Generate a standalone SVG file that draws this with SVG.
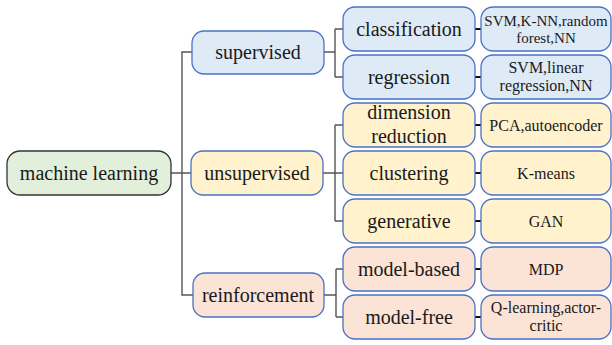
<svg xmlns="http://www.w3.org/2000/svg" width="612" height="345" viewBox="0 0 612 345">
<style>
.b{fill:#deebf7;stroke:#4a72c4;stroke-width:1.3}
.y{fill:#fff2cc;stroke:#4a72c4;stroke-width:1.3}
.o{fill:#fbe3d6;stroke:#4a72c4;stroke-width:1.3}
.g{fill:#e2efda;stroke:#333;stroke-width:1.3}
.c{fill:none;stroke:#555;stroke-width:1.4}
.k{fill:none;stroke:#111;stroke-width:2}
</style>
<g id="connectors">
<path class="c" d="M171 173H191M193 52H182V295H193M324 52H335M335 29V77M335 29H343M335 77H343"/>
<path class="c" d="M323 173H343M335 125V221M335 125H343M335 221H343"/>
<path class="c" d="M324 295H336M336 269V317M336 269H343M336 317H343"/>
<path class="k" d="M475 29H481M475 77H481M475 125H481M475 173H481M475 221H481M475 269H481M475 317H481"/>
</g>
<g font-family="Liberation Serif, serif" font-size="20" fill="#1a1a1a" text-anchor="middle">
<g id="machine-learning"><rect class="g" x="7" y="151" width="164" height="44" rx="13"/><text x="89" y="180">machine learning</text></g>
<g id="supervised"><rect class="b" x="192" y="31" width="132" height="43" rx="12"/><text x="258" y="59">supervised</text></g>
<g id="unsupervised"><rect class="y" x="191" y="151" width="132" height="44" rx="12"/><text x="257" y="180">unsupervised</text></g>
<g id="reinforcement"><rect class="o" x="193" y="273" width="131" height="44" rx="12"/><text x="258" y="302">reinforcement</text></g>
<g id="classification"><rect class="b" x="343" y="7" width="132" height="44" rx="12"/><text x="409" y="36">classification</text></g>
<g id="regression"><rect class="b" x="343" y="55" width="132" height="44" rx="12"/><text x="409" y="84">regression</text></g>
<g id="dimension-reduction"><rect class="y" x="343" y="103" width="132" height="44" rx="12"/><text x="409" y="119">dimension</text><text x="409" y="143">reduction</text></g>
<g id="clustering"><rect class="y" x="343" y="151" width="132" height="44" rx="12"/><text x="409" y="180">clustering</text></g>
<g id="generative"><rect class="y" x="343" y="199" width="132" height="44" rx="12"/><text x="409" y="228">generative</text></g>
<g id="model-based"><rect class="o" x="343" y="247" width="132" height="44" rx="12"/><text x="409" y="276">model-based</text></g>
<g id="model-free"><rect class="o" x="343" y="295" width="132" height="44" rx="12"/><text x="409" y="324">model-free</text></g>
</g>
<g font-family="Liberation Serif, serif" font-size="16" fill="#1a1a1a" text-anchor="middle">
<g id="svm-knn"><rect class="b" x="481" y="7" width="130" height="44" rx="12"/><text x="546" y="26" font-size="15">SVM,K-NN,random</text><text x="546" y="43" font-size="15">forest,NN</text></g>
<g id="svm-linear"><rect class="b" x="481" y="55" width="130" height="44" rx="12"/><text x="546" y="73">SVM,linear</text><text x="546" y="91">regression,NN</text></g>
<g id="pca"><rect class="y" x="481" y="103" width="130" height="44" rx="12"/><text x="546" y="131">PCA,autoencoder</text></g>
<g id="kmeans"><rect class="y" x="481" y="151" width="130" height="44" rx="12"/><text x="546" y="179">K-means</text></g>
<g id="gan"><rect class="y" x="481" y="199" width="130" height="44" rx="12"/><text x="546" y="227">GAN</text></g>
<g id="mdp"><rect class="o" x="481" y="247" width="130" height="44" rx="12"/><text x="546" y="275">MDP</text></g>
<g id="qlearning"><rect class="o" x="481" y="295" width="130" height="44" rx="12"/><text x="546" y="313">Q-learning,actor-</text><text x="546" y="331">critic</text></g>
</g>
</svg>
